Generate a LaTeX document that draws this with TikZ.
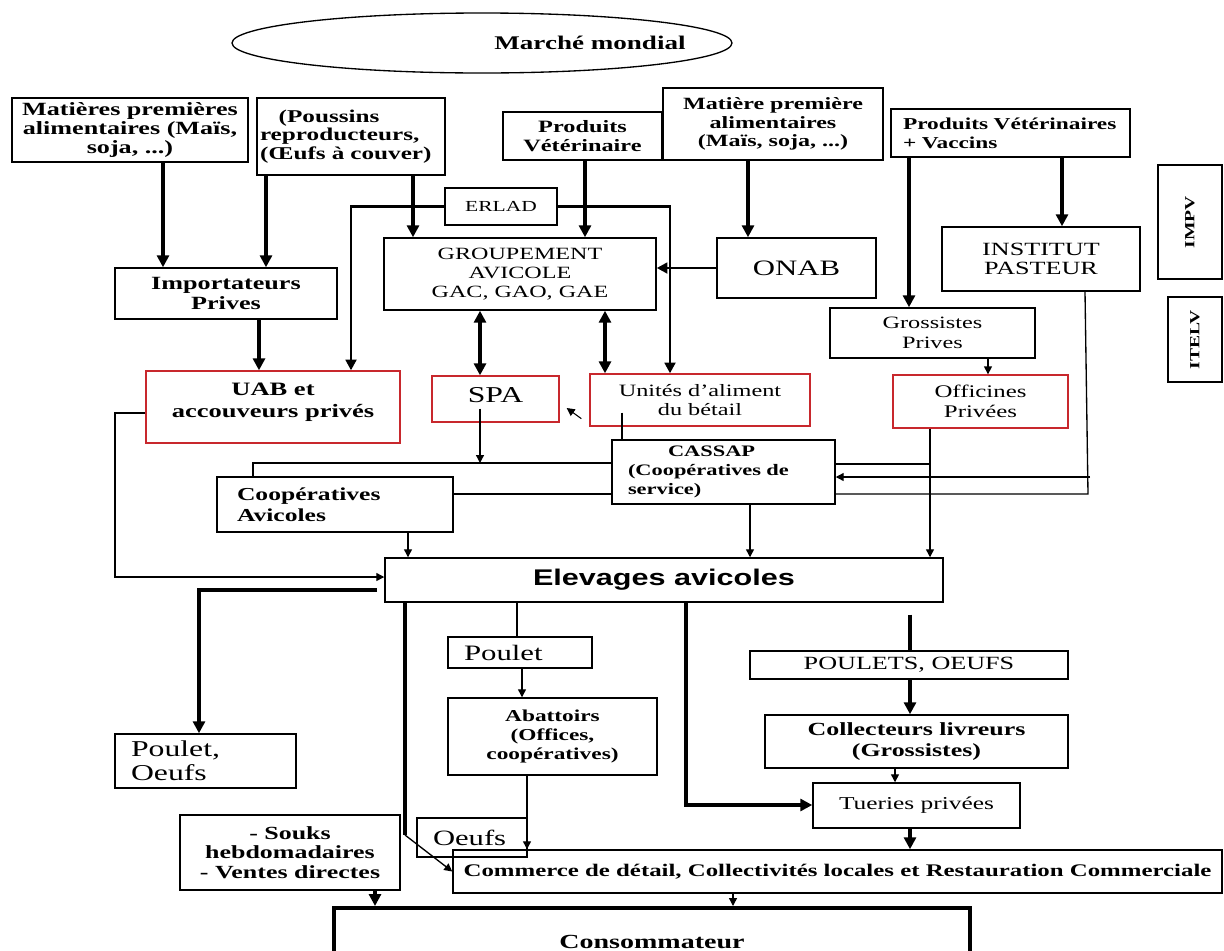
\documentclass[tikz,border=0pt]{standalone}
\usepackage{fontspec}
\setmainfont{Liberation Serif}[FakeStretch=1.4]
\newfontfamily\arialfont{Liberation Sans}[FakeStretch=1.35]
\usetikzlibrary{arrows.meta,shapes.geometric,calc}
\definecolor{boxred}{RGB}{200,40,45}
\newcommand\fsz[2]{\fontsize{#1}{#2}\selectfont}
\newcommand\mkbox[7][]{\node[bx,#1,minimum width={(#5-#3)*0.75pt},minimum height={(#6-#4)*0.75pt}] (#2) at ({(#3+#5)/2},{(#4+#6)/2}) {#7};}
\tikzset{
 x=0.75pt,y=-0.75pt,
 bx/.style={draw,line width=1.1pt,inner sep=0pt,align=center,font=\fsz{12.5}{13.9}\bfseries},
 rbx/.style={draw=boxred,line width=1pt},
 thk/.style={line width=3pt,-{Triangle[length=9pt,width=9pt]}},
 dthk/.style={line width=3pt,{Triangle[length=9pt,width=9pt]}-{Triangle[length=9pt,width=9pt]}},
 med/.style={line width=2pt,-{Triangle[length=8pt,width=8pt]}},
 thn/.style={line width=1pt,-{Triangle[length=6pt,width=6pt]}},
 ln/.style={line width=1pt},
 wl/.style={line width=3pt},
}
\begin{document}
\begin{tikzpicture}
\useasboundingbox (0,0) rectangle (1224,950);
% ellipse
\node[draw,ellipse,line width=1pt,inner sep=0pt,minimum width={500*0.75pt},minimum height={60*0.75pt}] (mm) at (482,43) {};
\node[font=\fsz{14.5}{16}\bfseries] (mmt) at (590,43) {Marché mondial};
% top row
\mkbox[font=\fsz{14}{13.9}\bfseries]{mp1}{12}{98}{248}{162}{Matières premières\\alimentaires (Maïs,\\soja, ...)}
\mkbox[align=left,text width={(188-6)*0.75pt},font=\fsz{13.5}{13.9}\bfseries]{pous}{257}{98}{445}{175}{\hspace*{14pt}(Poussins\\reproducteurs,\\(Œufs à couver)}
\mkbox[font=\fsz{13}{14}\bfseries]{pv}{503}{112}{662}{160}{Produits\\Vétérinaire}
\mkbox[font=\fsz{12.9}{14}\bfseries]{mp2}{663}{88}{883}{160}{Matière première\\alimentaires\\(Maïs, soja, ...)}
\mkbox[align=left,text width={(239-24)*0.75pt},font=\fsz{12.5}{14}\bfseries]{pvv}{891}{109}{1130}{157}{Produits Vétérinaires\\+ Vaccins}
\mkbox[font=\fsz{10.5}{12}\bfseries]{impv}{1158}{165}{1222}{279}{\rotatebox{90}{IMPV}}
\mkbox[font=\fsz{10.5}{12}\bfseries]{itelv}{1168}{297}{1222}{382}{\rotatebox{90}{ITELV}}
% second row
\mkbox[font=\fsz{11.5}{13}]{erlad}{445}{188}{557}{225}{ERLAD}
\mkbox[font=\fsz{12.9}{14}]{grp}{384}{238}{656}{310}{GROUPEMENT\\AVICOLE\\GAC, GAO, GAE}
\mkbox[font=\fsz{16.5}{18}]{onab}{717}{238}{876}{298}{ONAB}
\mkbox[font=\fsz{14}{14.5}]{ip}{942}{227}{1140}{291}{INSTITUT\\PASTEUR}
\mkbox[font=\fsz{14}{15.5}\bfseries]{imp}{115}{268}{337}{319}{Importateurs\\Prives}
\mkbox[font=\fsz{13}{14.5}]{gros}{830}{308}{1035}{358}{Grossistes\\Prives}
% red row
\mkbox[rbx,font=\fsz{14.2}{16.5}\bfseries]{uab}{146}{371}{400}{443}{UAB et\\accouveurs privés\\[-6pt]\mbox{}}
\mkbox[rbx,font=\fsz{17}{18}]{spa}{432}{376}{559}{422}{SPA\\[-12pt]\mbox{}}
\mkbox[rbx,font=\fsz{13}{14.5}]{unit}{590}{374}{810}{426}{Unités d’aliment\\du bétail}
\mkbox[rbx,font=\fsz{13.3}{15}]{off}{893}{375}{1068}{428}{Officines\\Privées}
\mkbox[align=left,text width={(223-32)*0.75pt},font=\fsz{12}{14.5}\bfseries]{cassap}{612}{440}{835}{504}{\hspace*{30pt}CASSAP\\(Coopératives de\\service)}
\mkbox[align=left,text width={(236-40)*0.75pt},font=\fsz{13.7}{15.5}\bfseries]{coop}{217}{477}{453}{532}{Coopératives\\Avicoles}
\mkbox[font=\arialfont\fsz{17}{18}\bfseries]{elev}{385}{558}{943}{602}{Elevages avicoles}
% lower part
\mkbox[font=\fsz{16.5}{18},align=left,text width={(144-32)*0.75pt}]{poulet}{448}{637}{592}{668}{Poulet}
\mkbox[font=\fsz{14}{15}]{po}{750}{651}{1068}{679}{POULETS, OEUFS}
\mkbox[font=\fsz{12.5}{14.5}\bfseries]{abat}{448}{698}{657}{775}{Abattoirs\\(Offices,\\coopératives)}
\mkbox[font=\fsz{13.9}{15.5}\bfseries]{coll}{765}{715}{1068}{768}{Collecteurs livreurs\\(Grossistes)}
\mkbox[font=\fsz{17}{18},align=left,text width={(181-32)*0.75pt}]{poe}{115}{734}{296}{788}{Poulet,\\Oeufs}
\mkbox[font=\fsz{13.9}{14.5}\bfseries]{souks}{180}{815}{400}{890}{- Souks\\hebdomadaires\\- Ventes directes}
\mkbox[font=\fsz{16.4}{18},align=left,text width={(110-32)*0.75pt}]{oeufs}{417}{818}{527}{857}{Oeufs}
\mkbox[font=\fsz{13.6}{15}]{tue}{813}{783}{1020}{828}{Tueries privées}
\mkbox[font=\fsz{13.3}{15}\bfseries]{com}{453}{850}{1222}{893}{Commerce de détail, Collectivités locales et Restauration Commerciale}
\mkbox[line width=3pt,font=\fsz{15}{16}\bfseries]{cons}{334}{908}{970}{975}{Consommateur}
% connectors: top
\draw[thk] (mp1.south -| 163,0) -- (imp.north -| 163,0);
\draw[thk] (pous.south -| 266,0) -- (imp.north -| 266,0);
\draw[thk] (pous.south -| 413,0) -- (grp.north -| 413,0);
\draw[thk] (pv.south -| 585,0) -- (grp.north -| 585,0);
\draw[thk] (mp2.south -| 748,0) -- (onab.north -| 748,0);
\draw[thk] (pvv.south -| 909,0) -- (gros.north -| 909,0);
\draw[thk] (pvv.south -| 1062,0) -- (ip.north -| 1062,0);
\draw[med] (erlad.west) -- (erlad.west -| 351,0) -- (uab.north -| 351,0);
\draw[med] (erlad.east) -- (erlad.east -| 670,0) -- (unit.north -| 670,0);
\draw[med] (onab.west) -- (grp.east |- onab.west);
\draw[thk] (imp.south -| 259,0) -- (uab.north -| 259,0);
\draw[dthk] (grp.south -| 480,0) -- (spa.north -| 480,0);
\draw[dthk] (grp.south -| 605,0) -- (unit.north -| 605,0);
\draw[thn] (gros.south -| 988,0) -- (off.north -| 988,0);
\draw[thn,line width=0.8pt] ($(unit.south west)+(-8,-8)$) -- ($(spa.east)+(7,9)$);
% middle
\coordinate (j1) at (480,463);
\coordinate (j2) at (930,464);
\draw[ln] (cassap.west |- j1) -- (253,463) -- (coop.north -| 253,0);
\draw[thn] ($(spa.south -| j1)+(0,-14)$) -- (j1);
\draw[ln] (coop.east |- 0,494) -- (cassap.west |- 0,494);
\draw[ln] ($(unit.south -| 622,0)+(0,-14)$) -- (cassap.north -| 622,0);
\draw[thn] (off.south -| 930,0) -- (elev.north -| 930,0);
\draw[ln] (cassap.east |- j2) -- (j2);
\draw[ln] (ip.south -| 1085,0) -- (1088,494) -- (cassap.east |- 0,494);
\coordinate (j3) at (1090,477);
\draw[thn] (j3) -- (cassap.east |- j3);
\draw[thn] (cassap.south -| 750,0) -- (elev.north -| 750,0);
\draw[thn] (coop.south -| 408,0) -- (elev.north -| 408,0);
\draw[thn] (uab.west |- 0,413) -- (115,413) -- (115,577) -- (elev.west |- 0,577);
% lower
\coordinate (j4) at (377,590);
\draw[thk] (j4) -- (199,590) -- (poe.north -| 199,0);
\coordinate (j5) at (405,835);
\draw[wl] (elev.south -| 405,0) -- (j5);
\draw[thn] (j5) -- (com.west);
\draw[ln] (elev.south -| 517,0) -- (poulet.north -| 517,0);
\draw[thn] (poulet.south -| 522,0) -- (abat.north -| 522,0);
\draw[thn] (abat.south -| 527,0) -- (com.north -| 527,0);
\draw[thk] (elev.south -| 686,0) -- (686,805) -- (tue.west |- 0,805);
\draw[wl] ($(elev.south -| 910,0)+(0,12)$) -- (po.north -| 910,0);
\draw[thk] (po.south -| 910,0) -- (coll.north -| 910,0);
\draw[thn] (coll.south -| 895,0) -- (tue.north -| 895,0);
\draw[thk] (tue.south -| 910,0) -- (com.north -| 910,0);
\draw[thn] (com.south -| 733,0) -- (cons.north -| 733,0);
\draw[thk] (souks.south -| 375,0) -- (cons.north -| 375,0);
\end{tikzpicture}
\end{document}
